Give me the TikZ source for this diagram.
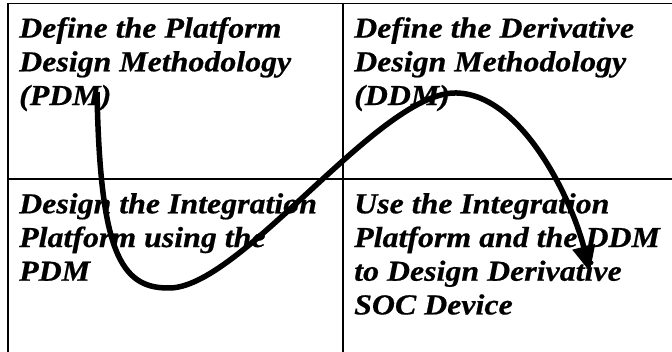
\documentclass[tikz,border=0pt]{standalone}
\usepackage{fontspec}
\usetikzlibrary{arrows.meta}
\newfontfamily\cellfont[FakeStretch=1.1, FakeBold=0.6]{Liberation Serif}
\tikzset{
  cell/.style={anchor=north west, inner sep=0pt, align=left,
    font=\cellfont\bfseries\itshape\fontsize{29}{33.7}\selectfont},
  grid/.style={line width=1.4pt, black},
  flow/.style={line width=5.5pt, black,
    -{Triangle[length=26pt, width=22pt]}}
}
\begin{document}
\begin{tikzpicture}[x=1pt, y=-1pt]
  \useasboundingbox (0,0) rectangle (672,352);
  \clip (0,0) rectangle (672,352);
  \fill[white] (0,0) rectangle (672,352);

  % the 2x2 table
  \draw[grid] (8,3.5) rectangle (690,370);
  \draw[grid] (343,3.5) -- (343,370);
  \draw[grid] (8,179) -- (690,179);

  % cell texts
  \node[cell] (pdm) at (19,17) {Define the Platform\\Design Methodology\\(PDM)};
  \node[cell] (ddm) at (354,17) {Define the Derivative\\Design Methodology\\(DDM)};
  \node[cell] (integ) at (19,193) {Design the Integration\\Platform using the\\PDM};
  \node[cell] (derive) at (354,193) {Use the Integration\\Platform and the DDM\\to Design Derivative\\SOC Device};

  % the flow through the four steps
  \coordinate (start) at (97,92);
  \coordinate (low) at (168,288);
  \coordinate (peak) at (457,93);
  \coordinate (tip) at (590,272);
  \draw[flow] (start) .. controls (100,250) and (120,288) .. (low)
    .. controls (240,290) and (380,90) .. (peak)
    .. controls (522,95) and (572,200) .. (tip);
\end{tikzpicture}
\end{document}
